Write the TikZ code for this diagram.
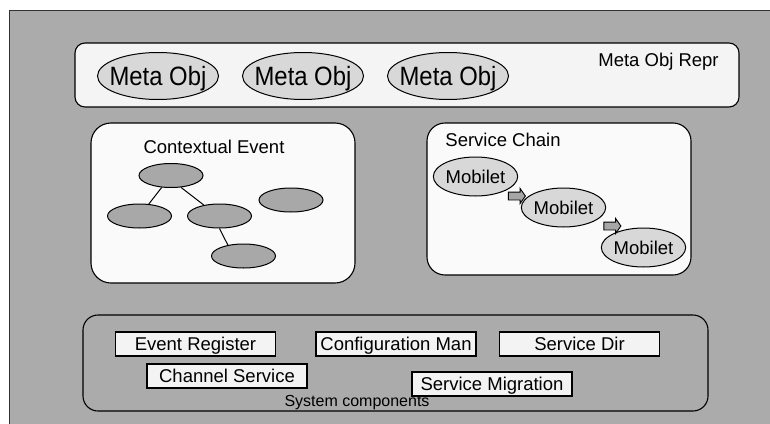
\documentclass[tikz,border=0pt]{standalone}
\usepackage{fontspec}
\setmainfont{Liberation Sans}
\usetikzlibrary{shapes.geometric,shapes.arrows}
\definecolor{bggray}{RGB}{171,171,171}
\definecolor{outline}{RGB}{50,50,50}
\definecolor{metafill}{RGB}{244,244,244}
\definecolor{panelfill}{RGB}{250,250,250}
\definecolor{compfill}{RGB}{243,243,243}
\definecolor{objfill}{RGB}{216,216,216}
\definecolor{evfill}{RGB}{168,168,168}
\definecolor{arrfill}{RGB}{166,166,166}
\tikzset{
  capsmid/.style={text height=13.2pt, text depth=0pt},
  base/.style={font=\fontsize{18.5pt}{20pt}\selectfont, inner sep=0pt, capsmid},
  panel/.style={draw=black, line width=1.1pt, rectangle, inner sep=0pt},
  metaobj/.style={ellipse, draw=black, line width=1pt, fill=objfill, inner sep=0pt, minimum width=121pt, minimum height=47pt},
  metatext/.style={font=\fontsize{26.5pt}{28pt}\selectfont, inner sep=0pt, text height=19pt, text depth=0pt},
  evnode/.style={ellipse, draw=black, line width=1pt, fill=evfill, inner sep=0pt, minimum width=64pt, minimum height=24pt},
  mobilet/.style={ellipse, draw=black, line width=1pt, fill=objfill, inner sep=0pt, minimum width=81pt, minimum height=39pt, font=\fontsize{18.5pt}{20pt}\selectfont, capsmid},
  comp/.style={rectangle, draw=black, line width=1.1pt, fill=compfill, inner sep=0pt, minimum width=160pt, minimum height=24pt, font=\fontsize{18.5pt}{20pt}\selectfont, capsmid},
  flowarrow/.style={single arrow, draw=black, line width=0.9pt, fill=arrfill, inner sep=3.5pt, single arrow head extend=3.5pt, single arrow tip angle=110, minimum height=17pt},
  evline/.style={draw=black, line width=1pt}
}
\begin{document}
\begin{tikzpicture}[x=1pt,y=-1pt]
\clip (0,0) rectangle (770,423);
\fill[white] (0,0) rectangle (770,423);
\draw[fill=bggray, draw=outline, line width=1.2pt] (9.5,10.5) rectangle (800,450);

% Meta Obj Repr
\node[panel, rounded corners=10pt, fill=metafill, minimum width=664pt, minimum height=64pt] (repr) at (407,75) {};
\node[base] (reprlabel) at (658.5,60) {Meta Obj Repr};
\node[metaobj, label={[metatext]center:\scalebox{0.9}[1]{Meta Obj}}] (mo1) at (158,76) {};
\node[metaobj, label={[metatext]center:\scalebox{0.9}[1]{Meta Obj}}] (mo2) at (303,76) {};
\node[metaobj, label={[metatext]center:\scalebox{0.9}[1]{Meta Obj}}] (mo3) at (448,76) {};

% Contextual Event
\node[panel, rounded corners=20pt, fill=panelfill, minimum width=264pt, minimum height=160pt] (ctx) at (223,203) {};
\node[base] (ctxlabel) at (214,147) {Contextual Event};
\node[evnode] (ct) at (171,175.5) {};
\node[evnode] (cl) at (139.5,216) {};
\node[evnode] (cm) at (219.5,216) {};
\node[evnode] (cr) at (291,200) {};
\node[evnode] (cb) at (243.5,256) {};
\draw[evline] (ct) -- (cl);
\draw[evline] (ct.-50) -- (cm.145);
\draw[evline] (cm.south) -- (cb.145);

% Service Chain
\node[panel, rounded corners=18pt, fill=panelfill, minimum width=264pt, minimum height=152pt] (chain) at (559,199) {};
\node[base] (chainlabel) at (503,140) {Service Chain};
\node[mobilet] (mb1) at (475.5,176.5) {Mobilet};
\node[mobilet] (mb2) at (563.5,207.5) {Mobilet};
\node[mobilet] (mb3) at (643.5,247.5) {Mobilet};
\node[flowarrow] (ar1) at (515.5,196) {};
\node[flowarrow] (ar2) at (611,226) {};

% System components
\node[panel, rounded corners=15pt, minimum width=625pt, minimum height=96pt] (sys) at (395.5,363) {};
\node[comp] (evreg) at (195.5,344) {Event Register};
\node[comp] (conf) at (396,344) {Configuration Man};
\node[comp] (sdir) at (579.5,344) {Service Dir};
\node[comp] (chan) at (227,376) {Channel Service};
\node[comp] (smig) at (492,384) {Service Migration};
\node[font=\fontsize{16pt}{18pt}\selectfont, inner sep=0pt, text height=11.5pt, text depth=0pt] (syslabel) at (357,401) {System components};
\end{tikzpicture}
\end{document}
